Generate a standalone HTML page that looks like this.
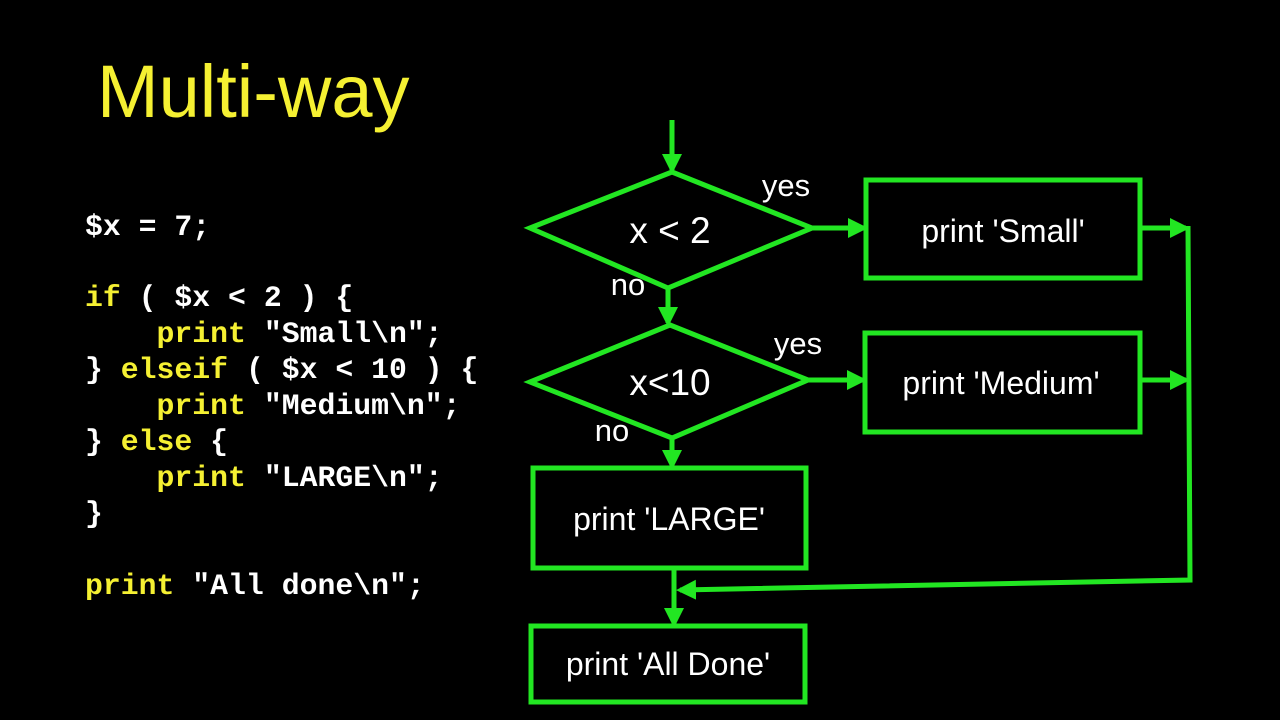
<!DOCTYPE html>
<html><head><meta charset="utf-8"><style>
html,body{margin:0;padding:0;background:#000;}
body{width:1280px;height:720px;position:relative;overflow:hidden;}
.code{position:absolute;left:85px;font-family:"Liberation Mono",monospace;font-weight:bold;font-size:29.8px;color:#fff;white-space:pre;line-height:36px;}
.k{color:#f5f032;}
</style></head><body>
<div style="position:absolute;left:97px;top:50px;font-family:'Liberation Sans',sans-serif;font-size:74px;color:#f5f032;line-height:84px;">Multi-way</div>
<div class="code" style="top:209px;">$x = 7;</div>
<div class="code" style="top:280px;"><span class="k">if</span> ( $x &lt; 2 ) {
    <span class="k">print</span> "Small\n";
} <span class="k">elseif</span> ( $x &lt; 10 ) {
    <span class="k">print</span> "Medium\n";
} <span class="k">else</span> {
    <span class="k">print</span> "LARGE\n";
}</div>
<div class="code" style="top:568px;"><span class="k">print</span> "All done\n";</div>
<svg width="1280" height="720" style="position:absolute;left:0;top:0" font-family="Liberation Sans, sans-serif" fill="#fff">
<defs><marker id="a" markerWidth="4" markerHeight="4" refX="3.2" refY="2" orient="auto" markerUnits="strokeWidth"><path d="M0,0 L4,2 L0,4 z" fill="#22e622"/></marker></defs>
<g stroke="#22e622" stroke-width="5" fill="none">
<polygon points="530,228 672,172 812,228 668,288"/>
<polygon points="530,382 670,325 808,380 672,438"/>
<rect x="866" y="180" width="274" height="98"/>
<rect x="865" y="333" width="275" height="99"/>
<rect x="533" y="468" width="273" height="100"/>
<rect x="531" y="626" width="274" height="76"/>
<line x1="672" y1="120" x2="672" y2="170" marker-end="url(#a)"/>
<line x1="668" y1="288" x2="668" y2="323" marker-end="url(#a)"/>
<line x1="812" y1="228" x2="864" y2="228" marker-end="url(#a)"/>
<line x1="808" y1="380" x2="863" y2="380" marker-end="url(#a)"/>
<line x1="672" y1="438" x2="672" y2="466" marker-end="url(#a)"/>
<line x1="1140" y1="228" x2="1186" y2="228" marker-end="url(#a)"/>
<line x1="1140" y1="380" x2="1186" y2="380" marker-end="url(#a)"/>
<polyline points="1188,226 1190,580 680,590" marker-end="url(#a)"/>
<line x1="674" y1="568" x2="674" y2="624" marker-end="url(#a)"/>
</g>
<g font-size="32">
<text x="670" y="243" text-anchor="middle" font-size="37">x &lt; 2</text>
<text x="670" y="395" text-anchor="middle" font-size="37">x&lt;10</text>
<text x="786" y="196" text-anchor="middle" font-size="31">yes</text>
<text x="798" y="354" text-anchor="middle" font-size="31">yes</text>
<text x="628" y="295" text-anchor="middle" font-size="31">no</text>
<text x="612" y="441" text-anchor="middle" font-size="31">no</text>
<text x="1003" y="242" text-anchor="middle">print 'Small'</text>
<text x="1001" y="394" text-anchor="middle">print 'Medium'</text>
<text x="669" y="530" text-anchor="middle">print 'LARGE'</text>
<text x="668" y="675" text-anchor="middle">print 'All Done'</text>
</g>
</svg>
</body></html>
